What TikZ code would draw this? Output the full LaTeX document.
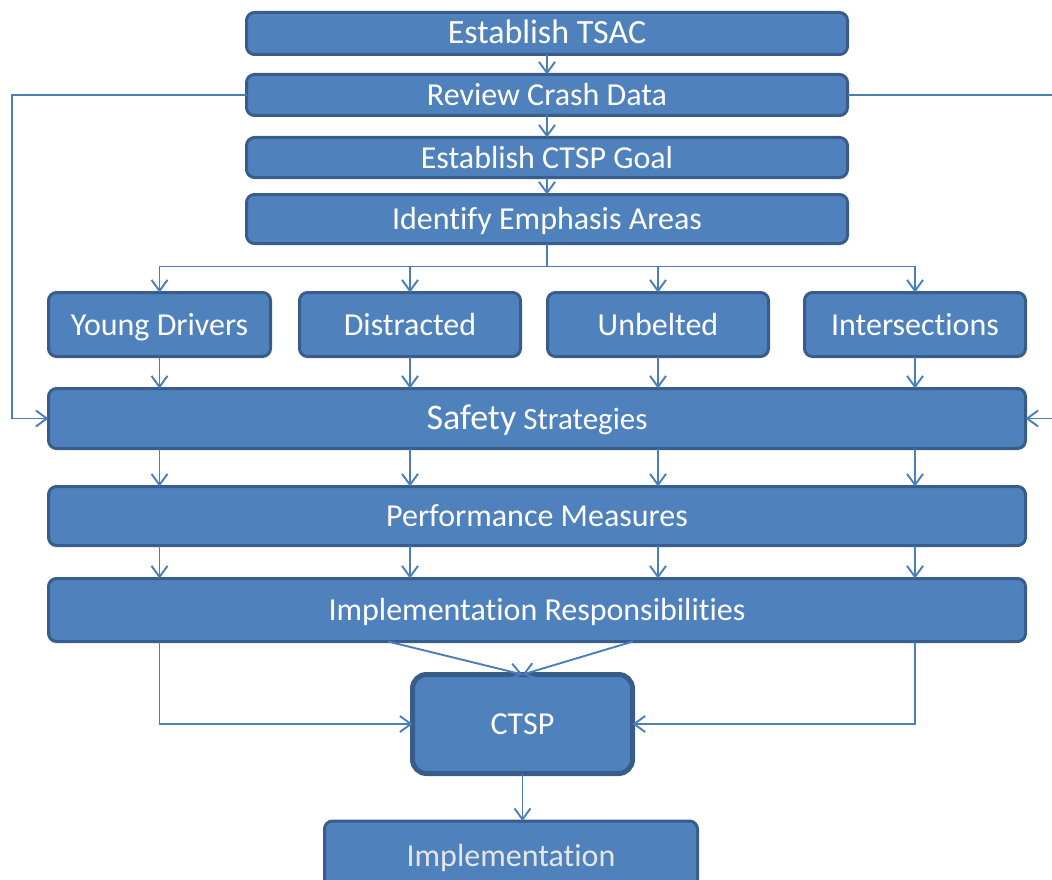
\documentclass[tikz,border=0pt]{standalone}
\usepackage{fontspec}
\setmainfont{Carlito}[Ligatures=NoCommon]
\usetikzlibrary{arrows.meta, calc}
\definecolor{boxfill}{HTML}{4F81BD}
\definecolor{boxline}{HTML}{385D8A}
\definecolor{linkblue}{HTML}{4A7EBB}
\definecolor{palegrey}{HTML}{E6E6E6}
\tikzset{
  stepbox/.style={draw=boxline, fill=boxfill, line width=3pt, rounded corners=8pt,
    text=white, inner sep=0pt, outer sep=0pt, text height=21pt, text depth=0pt,
    font=\fontsize{32}{36}\selectfont},
  link/.style={draw=linkblue, line width=1.9pt, -{Straight Barb[length=11pt,width=16pt]}},
  plain/.style={draw=linkblue, line width=1.9pt},
}

\begin{document}
\begin{tikzpicture}[x=1pt, y=-1pt]
  \useasboundingbox (0,0) rectangle (1052,880);
  % planning steps
  \node[stepbox, minimum width=601, minimum height=42, font=\fontsize{34}{38}\selectfont] (tsac) at (547,33.5) {Establish TSAC};
  \node[stepbox, minimum width=601, minimum height=41] (rcd) at (547,95) {Review Crash Data};
  \node[stepbox, minimum width=601, minimum height=40] (goal) at (547,157.5) {Establish CTSP Goal};
  \node[stepbox, minimum width=601, minimum height=49] (iea) at (547,219) {Identify Emphasis Areas};
  % emphasis areas
  \node[stepbox, minimum width=222, minimum height=64] (yd) at (159.5,324.5) {Young Drivers};
  \node[stepbox, minimum width=221, minimum height=64] (dis) at (410,324.5) {Distracted};
  \node[stepbox, minimum width=221, minimum height=64] (unb) at (658,324.5) {Unbelted};
  \node[stepbox, minimum width=221, minimum height=64] (int) at (915,324.5) {Intersections};
  % plan content
  \node[stepbox, minimum width=977, minimum height=60, font=\fontsize{31}{36}\selectfont] (ss) at (537,418.5) {{\fontsize{36}{40}\selectfont Safety} Strategies};
  \node[stepbox, minimum width=977, minimum height=59] (pm) at (537,516) {Performance Measures};
  \node[stepbox, minimum width=977, minimum height=63] (ir) at (537,610) {Implementation Responsibilities};
  \node[stepbox, line width=5pt, rounded corners=14pt, minimum width=220, minimum height=99] (ctsp) at (522.5,724) {CTSP};
  \node[stepbox, text=palegrey, minimum width=373, minimum height=70] (impl) at (511,856) {Implementation};

  % top chain
  \draw[link] (tsac.south) -- (rcd.north);
  \draw[link] (rcd.south) -- (goal.north);
  \draw[link] (goal.south) -- (iea.north);
  % feedback from crash data
  \draw[link] (rcd.west) -- (12,95) |- (ss.west);
  \draw[link] (rcd.east) -- (1062,95) |- (ss.east);
  % split to emphasis areas
  \coordinate (split) at ($(iea.south)+(0,23)$);
  \draw[plain] (iea.south) -- (split);
  \foreach \n in {yd,dis,unb,int}{
    \draw[link] (split) -| (\n.north);
    \draw[link] (\n.south) -- (\n.south |- ss.north);
    \draw[link] (\n.south |- ss.south) -- (\n.south |- pm.north);
    \draw[link] (\n.south |- pm.south) -- (\n.south |- ir.north);
  }
  % into the plan
  \draw[link] ($(ir.south)+(-149,0)$) -- (ctsp.north);
  \draw[link] ($(ir.south)+(96,0)$) -- (ctsp.north);
  \draw[link] (yd.south |- ir.south) |- (ctsp.west);
  \draw[link] (int.south |- ir.south) |- (ctsp.east);
  \draw[link] (ctsp.south) -- (ctsp.south |- impl.north);
\end{tikzpicture}
\end{document}
